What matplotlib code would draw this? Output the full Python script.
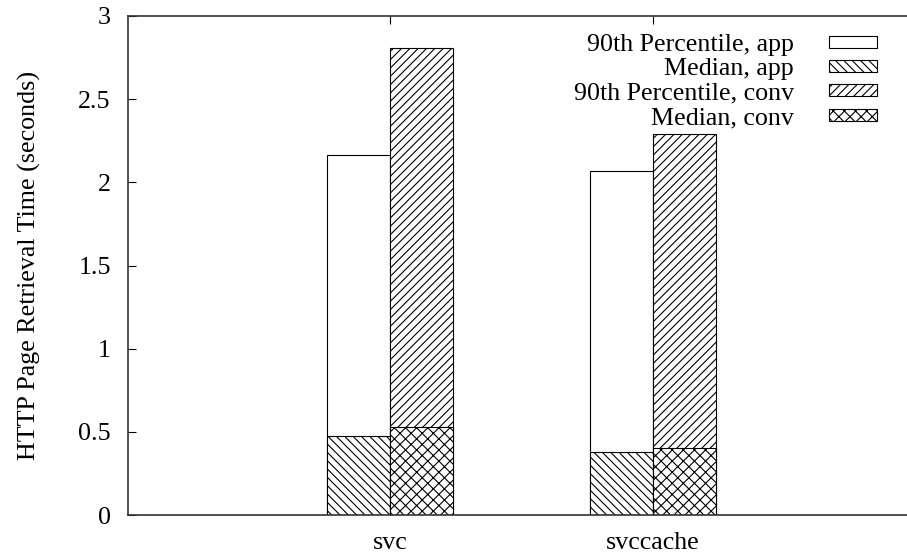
import numpy as np
from matplotlib import pyplot as plt
from matplotlib.patches import Patch

# data
configs = ['svc', 'svccache']
p90_app = [2.165, 2.069]
median_app = [0.475, 0.381]
p90_conv = [2.808, 2.291]
median_conv = [0.531, 0.401]
yticks = [0, 0.5, 1, 1.5, 2, 2.5, 3]
ytick_labels = ['0', '0.5', '1', '1.5', '2', '2.5', '3']

plt.rcParams['font.family'] = ['Liberation Serif', 'DejaVu Serif']
plt.rcParams['font.size'] = 18.7
plt.rcParams['hatch.linewidth'] = 0.8

fig = plt.figure(figsize=(9.07, 5.56), dpi=100)
ax = fig.add_axes([127.5 / 907, 41 / 556, 1 - 127.5 / 907, 499 / 556])

x = np.arange(len(configs))
w = 0.24
lw = 0.8
ax.bar(x - w / 2, p90_app, w, color='white', edgecolor='black', lw=lw)
ax.bar(x - w / 2, median_app, w, color='white', edgecolor='black', lw=lw, hatch='\\\\\\\\')
ax.bar(x + w / 2, p90_conv, w, color='white', edgecolor='black', lw=lw, hatch='////')
ax.bar(x + w / 2, median_conv, w, color='white', edgecolor='black', lw=lw, hatch='xxx')

ax.set_xlim(-0.998, 1.966)
ax.set_ylim(0, 3)
ax.set_xticks(x)
ax.set_xticklabels(configs)
ax.set_yticks(yticks)
ax.set_yticklabels(ytick_labels)
ax.set_ylabel('HTTP Page Retrieval Time (seconds)', labelpad=27)

ax.spines['right'].set_visible(False)
for s in ['left', 'top', 'bottom']:
    ax.spines[s].set_color('#333333')
    ax.spines[s].set_linewidth(1.2)
ax.tick_params(axis='x', direction='in', top=True, length=6, width=0.8, pad=12)
ax.tick_params(axis='y', direction='in', right=False, length=6, width=0.8, pad=12)

handles = [
    Patch(facecolor='white', edgecolor='black', lw=lw),
    Patch(facecolor='white', edgecolor='black', lw=lw, hatch='\\\\\\\\'),
    Patch(facecolor='white', edgecolor='black', lw=lw, hatch='////'),
    Patch(facecolor='white', edgecolor='black', lw=lw, hatch='xxx'),
]
labels = ['90th Percentile, app', 'Median, app', '90th Percentile, conv', 'Median, conv']
ax.legend(handles, labels, loc='upper right', bbox_to_anchor=(877 / 907, 1 - 34 / 556),
          bbox_transform=fig.transFigure, frameon=False, markerfirst=False,
          handlelength=1.85, handleheight=0.35, handletextpad=1.35,
          labelspacing=0.09, borderpad=0, borderaxespad=0)
for t in ax.get_legend().get_texts():
    t.set_ha('right')

plt.savefig('out.png', dpi=100)
plt.close()
